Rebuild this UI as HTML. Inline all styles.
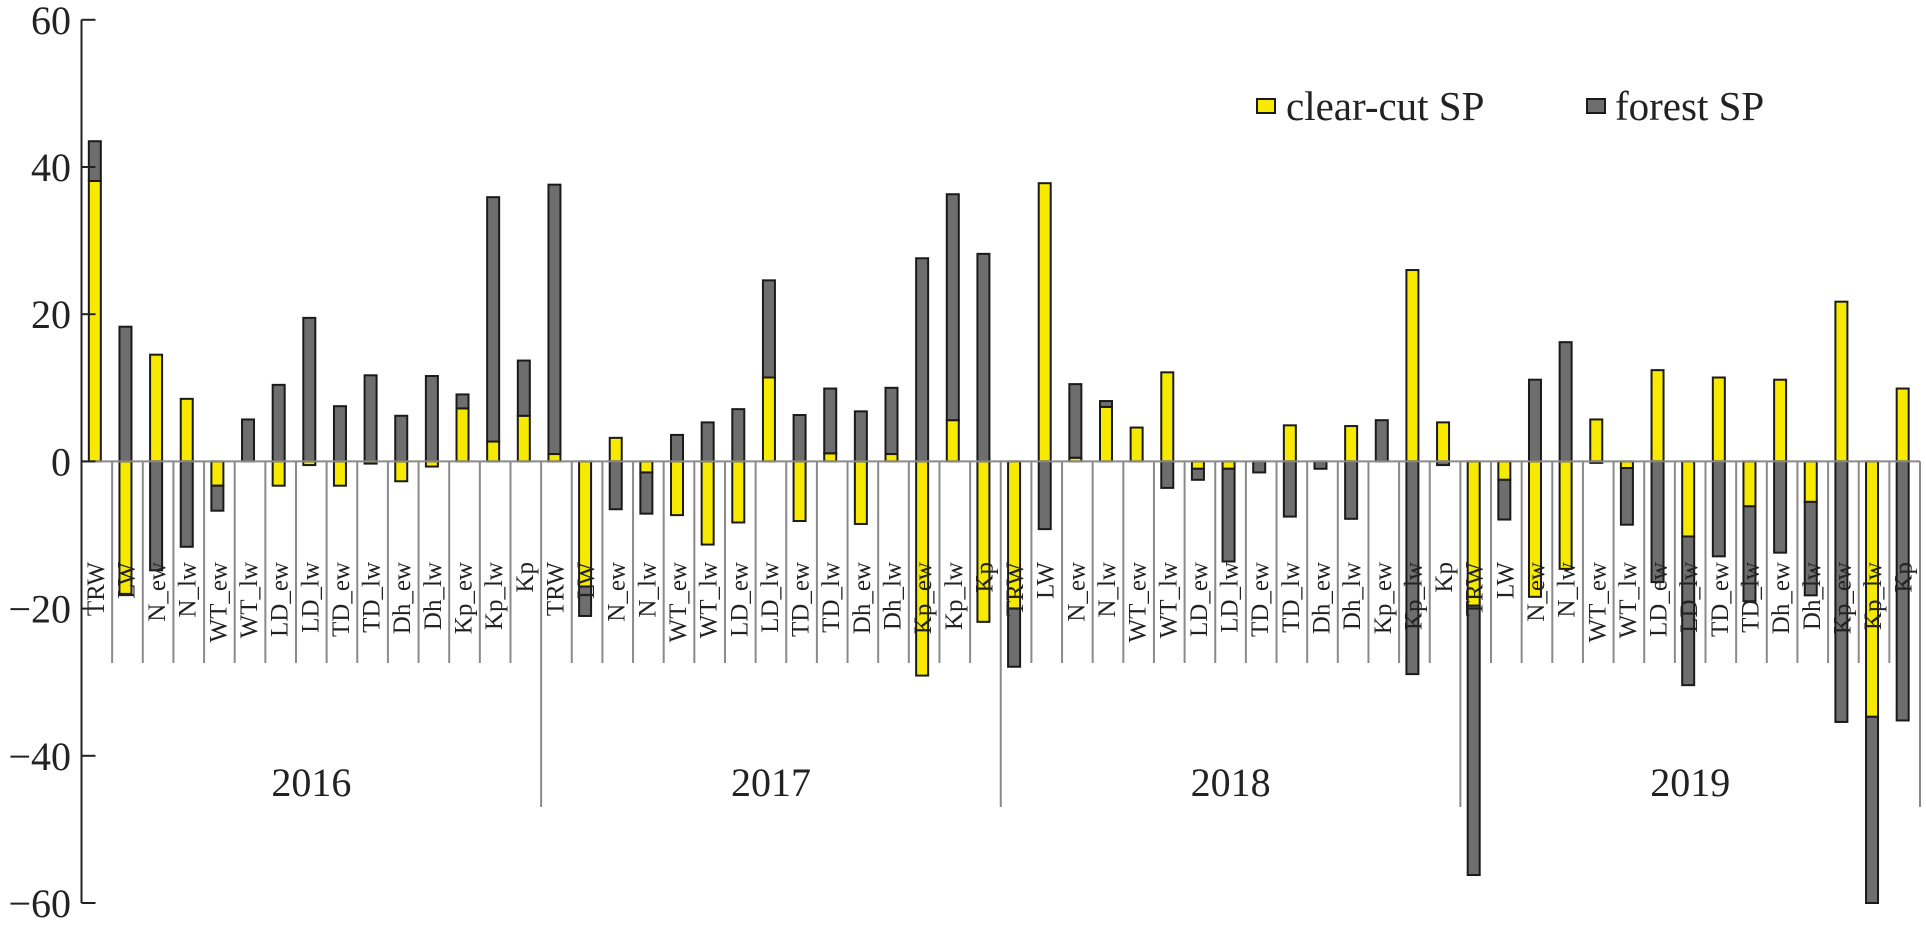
<!DOCTYPE html>
<html><head><meta charset="utf-8">
<style>
html,body{margin:0;padding:0;background:#fff;}
svg{display:block;font-family:"Liberation Serif",serif;}
</style></head>
<body>
<svg id="chart" width="1926" height="931" viewBox="0 0 1926 931" xmlns="http://www.w3.org/2000/svg">
  <g id="legend">
    <rect x="1257" y="99" width="18" height="14" fill="#f7ea00" stroke="#1a1a1a" stroke-width="2"/>
    <text x="1286" y="120" font-size="41" fill="#222">clear-cut SP</text>
    <rect x="1587" y="99" width="18" height="14" fill="#6e6e6e" stroke="#1a1a1a" stroke-width="2"/>
    <text x="1615" y="120" font-size="41" fill="#222">forest SP</text>
  </g>
</svg>
<script>
const years = ["2016","2017","2018","2019"];
const categories = ["TRW","LW","N_ew","N_lw","WT_ew","WT_lw","LD_ew","LD_lw","TD_ew","TD_lw","Dh_ew","Dh_lw","Kp_ew","Kp_lw","Kp"];
const clearCut2016 = [38.1,-18,14.5,8.5,-3.3,0,-3.3,-0.5,-3.3,-0.3,-2.7,-0.7,7.2,2.7,6.2];
const forest2016   = [5.4,18.3,-14.8,-11.6,-3.4,5.7,10.4,19.5,7.5,11.7,6.2,11.6,1.9,33.2,7.5];
const clearCut2017 = [1.0,-17,3.2,-1.5,-7.3,-11.3,-8.3,11.4,-8.1,1.1,-8.5,1.0,-29.1,5.6,-21.8];
const forest2017   = [36.6,-4,-6.5,-5.6,3.6,5.3,7.1,13.2,6.3,8.8,6.8,9.0,27.6,30.7,28.2];
const clearCut2018 = [-20,37.8,0.5,7.4,4.6,12.1,-1.0,-1.0,0,4.9,0,4.8,0,26.0,5.3];
const forest2018   = [-7.9,-9.2,10.0,0.8,0,-3.6,-1.5,-12.6,-1.5,-7.5,-1.0,-7.8,5.6,-28.9,-0.5];
const clearCut2019 = [-19.6,-2.5,-18.4,-14.6,5.7,-0.9,12.4,-10.2,11.4,-6.1,11.1,-5.5,21.7,-34.7,9.9];
const forest2019   = [-36.6,-5.4,11.1,16.2,-0.2,-7.7,-16.4,-20.2,-12.9,-12.9,-12.4,-12.7,-35.4,-25.5,-35.2];
const yTicks = [60,40,20,0,-20,-40,-60];

const clearCut = [clearCut2016,clearCut2017,clearCut2018,clearCut2019];
const forest = [forest2016,forest2017,forest2018,forest2019];

const NS = "http://www.w3.org/2000/svg";
const svg = document.getElementById("chart");
const X0 = 81.5, X1 = 1920, Y0 = 461.4, PPU = 7.36;
const nCat = years.length * categories.length;
const cw = (X1 - X0) / nCat;
const yS = v => Y0 - v * PPU;
const xS = i => X0 + i * cw;
const YMIN = -60, YMAX = 60;

function mk(tag, attrs, parent){
  const e = document.createElementNS(NS, tag);
  for (const k in attrs) e.setAttribute(k, attrs[k]);
  (parent||svg).appendChild(e);
  return e;
}
const gBars = mk("g", {});



function bar(x, v0, v1, fill, name){
  const a = Math.max(YMIN, Math.min(YMAX, v0)), b = Math.max(YMIN, Math.min(YMAX, v1));
  const top = yS(Math.max(a,b)), bot = yS(Math.min(a,b));
  if (bot - top < 0.01) return;
  const r = mk("rect", {x: x - 6, y: top, width: 12, height: bot - top, fill: fill, stroke: "#1a1a1a", "stroke-width": 2}, gBars);
  
  
}

years.forEach((yr, yi) => {
  categories.forEach((c, ci) => {
    const idx = yi * categories.length + ci;
    const cx = xS(idx) + cw / 2 - 2;
    const y = clearCut[yi][ci], f = forest[yi][ci];
    bar(cx, 0, y, "#f7ea00", "bar-clear-cut-" + yr + "-" + c);
    let fb;
    if ((f >= 0) === (y >= 0)) fb = y; else fb = 0;
    bar(cx, fb, fb + f, "#6e6e6e", "bar-forest-" + yr + "-" + c);
  });
});

// zero line & separators
const zl = mk("line", {x1: X0, x2: X1, y1: Y0, y2: Y0, stroke: "#8a8a8a", "stroke-width": 2});


for (let i = 1; i <= nCat; i++) {
  const isYear = i % categories.length === 0;
  const l = mk("line", {x1: xS(i), x2: xS(i), y1: Y0, y2: isYear ? 807 : 663, stroke: "#8a8a8a", "stroke-width": 2});
  
  
}

// category labels
years.forEach((yr, yi) => {
  categories.forEach((c, ci) => {
    const idx = yi * categories.length + ci;
    const cx = xS(idx) + cw / 2 + 7;
    const t = mk("text", {x: 0, y: 0, "font-size": 25, "text-anchor": "end", fill: "#222",
      transform: "translate(" + cx + ",562) rotate(-90)"});
    t.textContent = c;
    
    
  });
  const yt = mk("text", {x: xS(yi * categories.length + categories.length / 2), y: 796, "font-size": 40, "text-anchor": "middle", fill: "#222"});
  yt.textContent = yr;
  
  
});

// y axis
const ax = mk("line", {x1: X0, x2: X0, y1: yS(60), y2: yS(-60), stroke: "#222", "stroke-width": 2});


yTicks.forEach(v => {
  const tk = mk("line", {x1: X0, x2: X0 + 14, y1: yS(v), y2: yS(v), stroke: "#222", "stroke-width": 2});
  
  
  const tl = mk("text", {x: 71, y: yS(v) + 14, "font-size": 40, "text-anchor": "end", fill: "#222"});
  tl.textContent = v < 0 ? "\u2212" + Math.abs(v) : String(v);
  
  
});
</script>
</body></html>
